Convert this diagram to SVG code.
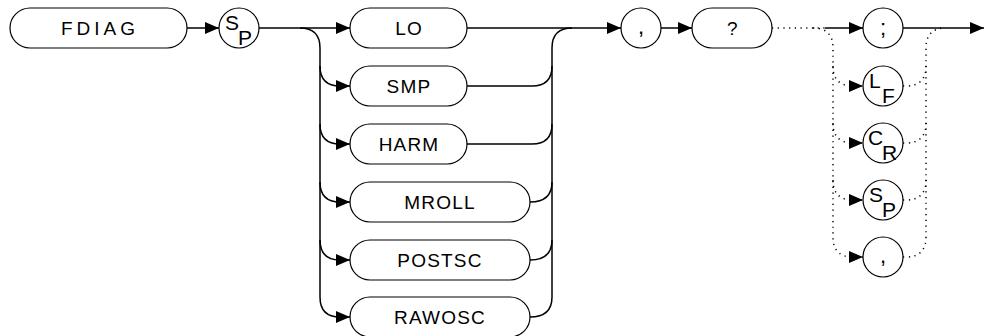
<svg xmlns="http://www.w3.org/2000/svg" width="985" height="336" viewBox="0 0 985 336">
<defs>
<marker id="ah" markerUnits="userSpaceOnUse" markerWidth="15" markerHeight="13" refX="14" refY="6.5" orient="auto" overflow="visible">
<path d="M0,0.5 L14,6.5 L0,12.5 z" fill="#000" stroke="none"/>
</marker>
</defs>
<style>
.pill{fill:#fff;stroke:#000;stroke-width:1.2}
.circ{fill:#fff;stroke:#000;stroke-width:1.2}
.lbl{font-family:"Liberation Sans",Arial,sans-serif;font-size:19px;fill:#000;text-anchor:middle;letter-spacing:1.2px}
.sym{font-family:"Liberation Sans",Arial,sans-serif;font-size:21px;fill:#000}
.pun{font-family:"Liberation Sans",Arial,sans-serif;font-size:22px;fill:#000;text-anchor:middle}
.c{fill:none;stroke:#000;stroke-width:1.5}
.d{fill:none;stroke:#000;stroke-width:1.5;stroke-dasharray:1.2 4.5}
</style>
<g id="connectors">
<path class="c" d="M187,28 H219" marker-end="url(#ah)"/>
<path class="c" d="M259,28 H350" marker-end="url(#ah)"/>
<path class="c" d="M300,28 Q320,28 320,48 V297 Q320,317 340,317 H350" marker-end="url(#ah)"/>
<path class="c" d="M320,66 Q320,86 340,86 H350" marker-end="url(#ah)"/>
<path class="c" d="M320,124 Q320,144 340,144 H350" marker-end="url(#ah)"/>
<path class="c" d="M320,182 Q320,202 340,202 H350" marker-end="url(#ah)"/>
<path class="c" d="M320,240 Q320,260 340,260 H350" marker-end="url(#ah)"/>
<path class="c" d="M467,28 H621" marker-end="url(#ah)"/>
<path class="c" d="M530,317 Q552,317 552,297 V48 Q552,28 572,28"/>
<path class="c" d="M467,86 H532 Q552,86 552,66"/>
<path class="c" d="M467,144 H532 Q552,144 552,124"/>
<path class="c" d="M530,202 Q552,202 552,182"/>
<path class="c" d="M530,260 Q552,260 552,240"/>
<path class="c" d="M661,28 H692" marker-end="url(#ah)"/>
<path class="d" d="M772,28 H825"/>
<path class="c" d="M825,28 H863" marker-end="url(#ah)"/>
<path class="d" d="M813,28 Q833,28 833,48 V237 Q833,257 853,257 H863" marker-end="url(#ah)"/>
<path class="d" d="M833,66 Q833,86 853,86 H863" marker-end="url(#ah)"/>
<path class="d" d="M833,123 Q833,143 853,143 H863" marker-end="url(#ah)"/>
<path class="d" d="M833,180 Q833,200 853,200 H863" marker-end="url(#ah)"/>
<path class="d" d="M903,86 H906 Q926,86 926,66"/>
<path class="d" d="M903,143 H906 Q926,143 926,123"/>
<path class="d" d="M903,200 H906 Q926,200 926,180"/>
<path class="d" d="M903,257 H906 Q926,257 926,237 V48 Q926,28 946,28"/>
<path class="c" d="M903,28 H984" marker-end="url(#ah)"/>
</g>
<g id="node-fdiag"><rect class="pill" x="10" y="8" width="177" height="40" rx="20"/><text class="lbl" x="100" y="35" style="letter-spacing:4px">FDIAG</text></g>
<g id="node-sp1"><circle class="circ" cx="239" cy="28" r="20"/><text class="sym" x="225" y="30">S</text><text class="sym" x="238" y="45">P</text></g>
<g id="node-lo"><rect class="pill" x="350" y="8" width="117" height="40" rx="20"/><text class="lbl" x="409" y="35">LO</text></g>
<g id="node-smp"><rect class="pill" x="350" y="66" width="117" height="40" rx="20"/><text class="lbl" x="409" y="93">SMP</text></g>
<g id="node-harm"><rect class="pill" x="350" y="124" width="117" height="40" rx="20"/><text class="lbl" x="409" y="151">HARM</text></g>
<g id="node-mroll"><rect class="pill" x="350" y="182" width="180" height="40" rx="20"/><text class="lbl" x="440" y="209">MROLL</text></g>
<g id="node-postsc"><rect class="pill" x="350" y="240" width="180" height="40" rx="20"/><text class="lbl" x="440" y="267">POSTSC</text></g>
<g id="node-rawosc"><rect class="pill" x="350" y="297" width="180" height="40" rx="20"/><text class="lbl" x="440" y="324">RAWOSC</text></g>
<g id="node-comma1"><circle class="circ" cx="641" cy="28" r="20"/><text class="pun" x="641" y="34">,</text></g>
<g id="node-query"><rect class="pill" x="692" y="8" width="80" height="40" rx="20"/><text class="lbl" x="733" y="35">?</text></g>
<g id="node-semi"><circle class="circ" cx="883" cy="28" r="20"/><text class="pun" x="883" y="35">;</text></g>
<g id="node-lf"><circle class="circ" cx="883" cy="86" r="20"/><text class="sym" x="869" y="88">L</text><text class="sym" x="882" y="103">F</text></g>
<g id="node-cr"><circle class="circ" cx="883" cy="143" r="20"/><text class="sym" x="868" y="145">C</text><text class="sym" x="882" y="160">R</text></g>
<g id="node-sp2"><circle class="circ" cx="883" cy="200" r="20"/><text class="sym" x="869" y="202">S</text><text class="sym" x="882" y="217">P</text></g>
<g id="node-comma2"><circle class="circ" cx="883" cy="257" r="20"/><text class="pun" x="883" y="263">,</text></g>
</svg>
